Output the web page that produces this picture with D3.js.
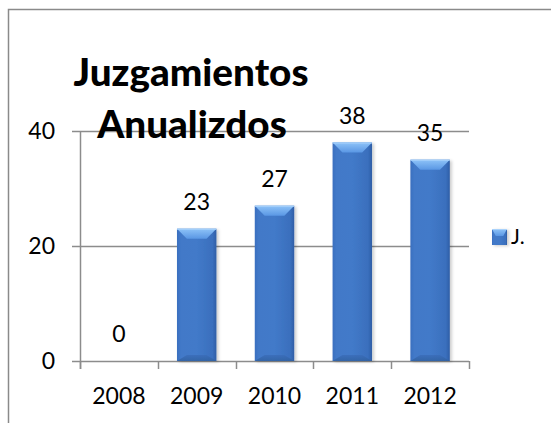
<!DOCTYPE html>
<html>
<head>
<meta charset="utf-8">
<script src="https://cdn.jsdelivr.net/npm/d3@7"></script>
<style>
  html, body { margin: 0; padding: 0; background: #fff; }
  svg { display: block; font-family: Lato, "Open Sans", sans-serif; }
</style>
</head>
<body>
<svg id="chart" width="551" height="423"></svg>
<script>
const categories = ["2008", "2009", "2010", "2011", "2012"];
const values = [0, 23, 27, 38, 35];
const yTicks = [0, 20, 40];
const seriesName = "J.";
const titleLines = ["Juzgamientos", "Anualizdos"];

const svg = d3.select("#chart");
const defs = svg.append("defs");

const body = defs.append("linearGradient").attr("id", "barBody")
  .attr("x1", "0%").attr("x2", "100%").attr("y1", "0%").attr("y2", "0%");
[["0%", "#3a6fbf"], ["10%", "#4279c8"], ["50%", "#427ac9"], ["90%", "#3a6fbd"], ["100%", "#2f5ea6"]]
  .forEach(([o, c]) => body.append("stop").attr("offset", o).attr("stop-color", c));

const bevel = defs.append("linearGradient").attr("id", "barBevel")
  .attr("x1", "0%").attr("x2", "0%").attr("y1", "0%").attr("y2", "100%");
[["0%", "#8ec3f8"], ["100%", "#5a97e4"]]
  .forEach(([o, c]) => bevel.append("stop").attr("offset", o).attr("stop-color", c));

const bottomG = defs.append("linearGradient").attr("id", "barBottom")
  .attr("x1", "0%").attr("x2", "0%").attr("y1", "0%").attr("y2", "100%");
[["0%", "#3a6cb8"], ["100%", "#30609f"]]
  .forEach(([o, c]) => bottomG.append("stop").attr("offset", o).attr("stop-color", c));

const shadow = defs.append("filter").attr("id", "shadow").attr("x", "-20%").attr("y", "-10%").attr("width", "150%").attr("height", "130%");
shadow.append("feDropShadow").attr("dx", 2).attr("dy", 1).attr("stdDeviation", 1.5)
  .attr("flood-color", "#000").attr("flood-opacity", 0.2);

// Chart frame
svg.append("rect").attr("x", 8.5).attr("y", 9.5).attr("width", 560).attr("height", 430)
  .attr("fill", "none").attr("stroke", "#8a8a8a").attr("stroke-width", 1.5);

const x = d3.scaleBand().domain(categories).range([80, 469]).padding(0);
const y = d3.scaleLinear().domain([0, 40]).range([361, 131]);

const grid = "#8c8c8c";

// Gridlines (with left tick)
svg.append("g").selectAll("line").data(yTicks).join("line")
  .attr("x1", 72).attr("x2", 469)
  .attr("y1", d => Math.round(y(d)) + 0.5).attr("y2", d => Math.round(y(d)) + 0.5)
  .attr("stroke", grid).attr("stroke-width", 1.5);

// Y axis line
svg.append("line").attr("x1", 80.5).attr("x2", 80.5)
  .attr("y1", y(40)).attr("y2", y(0) + 8)
  .attr("stroke", grid).attr("stroke-width", 1.5);

// X ticks at band boundaries
const bounds = categories.map(c => x(c)).concat([x(categories[categories.length - 1]) + x.bandwidth()]);
svg.append("g").selectAll("line").data(bounds).join("line")
  .attr("x1", d => Math.round(d) + 0.5).attr("x2", d => Math.round(d) + 0.5)
  .attr("y1", y(0)).attr("y2", y(0) + 8)
  .attr("stroke", grid).attr("stroke-width", 1.5);

const fsLab = 23;

// Y tick labels
svg.append("g").selectAll("text").data(yTicks).join("text")
  .attr("x", 55).attr("y", d => y(d)).attr("dy", "0.36em")
  .attr("text-anchor", "end").attr("font-size", fsLab).attr("fill", "#000")
  .text(d => d);

// X tick labels
svg.append("g").selectAll("text").data(categories).join("text")
  .attr("x", d => x(d) + x.bandwidth() / 2).attr("y", 404)
  .attr("text-anchor", "middle").attr("font-size", fsLab).attr("fill", "#000")
  .text(d => d);

// Bars
const barW = x.bandwidth() * 0.507;
const bars = svg.append("g").selectAll("g").data(categories.map((c, i) => ({ c, v: values[i] })))
  .join("g");

function drawBevelBar(g, x0, y0, w, h, full) {
  if (h <= 0) return;
  g.append("rect").attr("x", x0).attr("y", y0).attr("width", w).attr("height", h)
    .attr("fill", "url(#barBody)").attr("filter", "url(#shadow)");
  const b = Math.min(full ? 10 : 7, h / 2);
  const inset = Math.min(w * 0.25, full ? 10 : 5);
  if (full) {
    const bb = 6;
    g.append("polygon")
      .attr("points", [[x0, y0 + h], [x0 + w, y0 + h], [x0 + w - inset, y0 + h - bb], [x0 + inset, y0 + h - bb]].map(p => p.join(",")).join(" "))
      .attr("fill", "url(#barBottom)").attr("opacity", 0.8);
  }
  g.append("polygon")
    .attr("points", [[x0, y0], [x0 + w, y0], [x0 + w - inset, y0 + b], [x0 + inset, y0 + b]].map(p => p.join(",")).join(" "))
    .attr("fill", "url(#barBevel)");
  g.append("line").attr("x1", x0).attr("x2", x0 + w).attr("y1", y0 + 0.5).attr("y2", y0 + 0.5)
    .attr("stroke", "#a9d2fb").attr("stroke-width", 1);
}

bars.each(function(d) {
  const g = d3.select(this);
  const cx = x(d.c) + x.bandwidth() / 2;
  drawBevelBar(g, cx - barW / 2, y(d.v), barW, y(0) - y(d.v), true);
});

// Data labels
svg.append("g").selectAll("text").data(categories.map((c, i) => ({ c, v: values[i] }))).join("text")
  .attr("x", d => x(d.c) + x.bandwidth() / 2).attr("y", d => y(d.v) - 19)
  .attr("text-anchor", "middle").attr("font-size", fsLab).attr("fill", "#000")
  .text(d => d.v);

// Title
const title = svg.append("g");
const t1 = title.append("text").attr("x", 191).attr("y", 86)
  .attr("text-anchor", "middle").attr("font-weight", 900).attr("font-size", 36).attr("fill", "#000")
  .text(titleLines[0]);
const w1 = t1.node().getComputedTextLength();
const fs = 36 * 235 / w1;
t1.attr("font-size", fs);
title.append("text").attr("x", 192).attr("y", 137.5)
  .attr("text-anchor", "middle").attr("font-weight", 900).attr("font-size", fs).attr("fill", "#000")
  .text(titleLines[1]);

// Legend
const lg = svg.append("g");
drawBevelBar(lg, 492, 229, 15, 16, false);
lg.append("text").attr("x", 511).attr("y", 244).attr("font-size", 21).attr("fill", "#000").text(seriesName);
</script>
</body>
</html>
